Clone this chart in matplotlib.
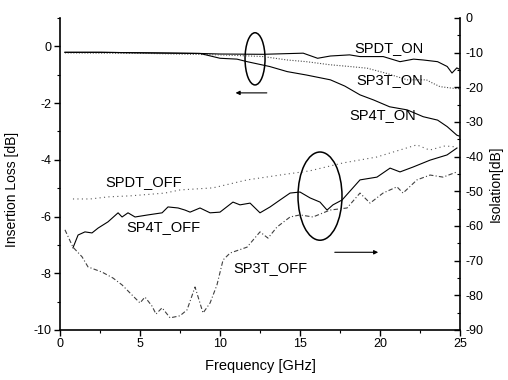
import numpy as np
import matplotlib
matplotlib.use("Agg")
import matplotlib.pyplot as plt
from matplotlib.patches import Ellipse
from matplotlib.ticker import MultipleLocator

plt.rcParams['font.family'] = ['Liberation Sans', 'DejaVu Sans']
plt.rcParams['axes.unicode_minus'] = False

# insertion loss (left axis, dB)
f_spdt_on = [0.31, 2.5, 5.6, 8.75, 10.0, 12.7, 15.2, 16.1, 16.9, 18.1, 18.75, 20.2,
             21.25, 22.1, 22.7, 23.6, 24.2, 24.5, 24.8, 24.94]
il_spdt_on = [-0.21, -0.21, -0.23, -0.25, -0.27, -0.28, -0.24, -0.42, -0.34, -0.30, -0.36, -0.36,
              -0.54, -0.45, -0.48, -0.54, -0.71, -0.94, -0.76, -0.80]

f_sp3t_on = [0.31, 5.6, 10.0, 11.9, 12.7, 14.2, 15.4, 16.9, 18.1, 19.2, 20.4, 21.7,
             22.9, 23.3, 23.75, 24.6, 24.94]
il_sp3t_on = [-0.23, -0.25, -0.30, -0.34, -0.36, -0.48, -0.54, -0.65, -0.71, -0.77, -0.95, -1.18,
              -1.18, -1.30, -1.42, -1.48, -1.49]

f_sp4t_on = [0.31, 2.5, 5.6, 8.75, 10.0, 11.06, 11.7, 13.1, 14.2, 15.4, 16.9, 17.8, 18.75,
             19.6, 20.6, 21.7, 22.7, 23.6, 24.2, 24.8, 24.94]
il_sp4t_on = [-0.21, -0.21, -0.23, -0.25, -0.42, -0.45, -0.54, -0.71, -0.89, -1.01, -1.18, -1.40, -1.71,
              -1.89, -2.13, -2.24, -2.48, -2.60, -2.83, -3.13, -3.16]

# isolation (right axis, dB)
f_spdt_off = [0.81, 1.9, 3.0, 4.4, 6.56, 7.5, 9.56, 11.7, 13.75, 15.6, 17.7, 19.8,
              22.3, 23.1, 24.06, 24.8]
iso_spdt_off = [-52.2, -52.2, -51.6, -51.3, -50.5, -49.6, -49.0, -46.7, -45.3, -44.1, -41.8, -40.1,
                -36.6, -38.1, -36.9, -37.2]

f_sp4t_off = [0.81, 1.13, 1.56, 2.0, 2.38, 3.0, 3.63, 3.88, 4.25, 4.69, 5.5, 6.38, 6.75, 7.38,
              7.81, 8.13, 8.75, 9.38, 10.0, 10.81, 11.25, 11.88, 12.5, 13.13, 13.75, 14.38, 15.0,
              15.63, 16.25, 16.69, 17.06, 17.63, 18.75, 19.81, 20.63, 21.25, 22.06, 23.13, 24.19, 24.81]
iso_sp4t_off = [-66.3, -62.6, -61.7, -62.0, -60.6, -58.8, -56.2, -57.4, -56.2, -57.4, -56.8, -56.2,
                -54.5, -54.8, -55.4, -56.0, -54.8, -56.2, -56.0, -53.1, -53.9, -53.4, -56.2, -54.5,
                -52.5, -50.5, -50.2, -51.9, -53.1, -55.4, -53.9, -52.5, -46.7, -45.9, -43.3, -44.4,
                -43.0, -41.0, -39.5, -37.5]

f_sp3t_off = [0.31, 0.81, 1.38, 1.75, 2.63, 3.31, 3.88, 4.5, 5.0, 5.31, 5.75, 6.0, 6.38, 6.88,
              7.5, 7.94, 8.44, 8.94, 9.38, 9.81, 10.19, 10.63, 11.69, 12.5, 13.0, 13.56, 14.38,
              15.0, 15.81, 16.88, 17.94, 18.75, 19.38, 20.19, 21.06, 21.44, 22.31, 23.13, 23.94, 24.81]
iso_sp3t_off = [-61.1, -66.1, -68.9, -71.8, -73.3, -75.0, -77.0, -79.9, -82.2, -80.5, -83.1, -85.4,
                -83.6, -86.5, -85.9, -84.2, -77.6, -85.1, -82.2, -77.0, -69.8, -67.8, -66.1, -61.7,
                -63.5, -60.3, -57.4, -56.8, -57.4, -55.4, -54.8, -50.5, -53.4, -50.5, -48.7, -50.5,
                -46.7, -45.3, -45.9, -44.4]

fig = plt.figure(figsize=(5.08, 3.80), dpi=100)
ax = fig.add_axes([60 / 508, 1 - 330 / 380, 400 / 508, 312 / 380])
ax2 = ax.twinx()

k = 'black'
ax.plot(f_spdt_on, il_spdt_on, color=k, lw=0.8)
ax.plot(f_sp3t_on, il_sp3t_on, color='0.3', lw=0.8, ls=(0, (1, 1.5)))
ax.plot(f_sp4t_on, il_sp4t_on, color=k, lw=0.8)

ax2.plot(f_spdt_off, iso_spdt_off, color='0.35', lw=0.8, ls=(0, (1, 3)))
ax2.plot(f_sp4t_off, iso_sp4t_off, color=k, lw=0.8)
ax2.plot(f_sp3t_off, iso_sp3t_off, color='0.25', lw=0.8, ls=(0, (4, 2, 1, 2)))

ax.set_xlim(0, 25)
ax.set_ylim(-10, 1)
ax2.set_ylim(-90, 0)

ax.xaxis.set_major_locator(MultipleLocator(5))
ax.xaxis.set_minor_locator(MultipleLocator(2.5))
ax.yaxis.set_major_locator(MultipleLocator(2))
ax.yaxis.set_minor_locator(MultipleLocator(1))
ax2.yaxis.set_major_locator(MultipleLocator(10))
ax2.yaxis.set_minor_locator(MultipleLocator(5))

ax.tick_params(which='major', direction='out', length=4, width=1, labelsize=9, pad=2)
ax.tick_params(which='minor', direction='out', length=2.5, width=0.8)
ax2.tick_params(which='major', direction='in', length=4, width=1, labelsize=9, pad=4)
ax2.tick_params(which='minor', direction='in', length=2.5, width=0.8)

for a in (ax, ax2):
    a.spines['top'].set_visible(False)
    for s in a.spines.values():
        s.set_linewidth(1.2)
ax.spines['right'].set_visible(False)
ax2.spines['left'].set_visible(False)
ax2.spines['bottom'].set_visible(False)

ax.set_xlabel('Frequency [GHz]', fontsize=10.5, labelpad=6)
ax.set_ylabel('Insertion Loss [dB]', fontsize=10)
ax.yaxis.set_label_coords(-0.103, 0.45)
ax2.set_ylabel('Isolation[dB]', fontsize=10, rotation=90)
ax2.yaxis.set_label_coords(1.072, 0.47)

tkw = dict(fontsize=10.5, ha='center', va='center')
ax.text(20.56, -0.05, 'SPDT_ON', **tkw)
ax.text(20.63, -1.18, 'SP3T_ON', **tkw)
ax.text(20.19, -2.42, 'SP4T_ON', **tkw)
ax.text(5.25, -4.79, 'SPDT_OFF', **tkw)
ax.text(6.44, -6.38, 'SP4T_OFF', **tkw)
ax.text(13.13, -7.83, 'SP3T_OFF', **tkw)

ax.add_patch(Ellipse((12.19, -0.44), 1.25, 1.84, fill=False, lw=1.1, color=k))
ax.add_patch(Ellipse((16.25, -5.28), 2.75, 3.11, fill=False, lw=1.1, color=k))
ax.annotate('', xy=(10.8, -1.64), xytext=(13.1, -1.64),
            arrowprops=dict(arrowstyle='-|>', lw=0.8, color=k, mutation_scale=6))
ax.annotate('', xy=(20.06, -7.26), xytext=(17.0, -7.26),
            arrowprops=dict(arrowstyle='-|>', lw=0.8, color=k, mutation_scale=6))

fig.savefig('out.png', dpi=100)
